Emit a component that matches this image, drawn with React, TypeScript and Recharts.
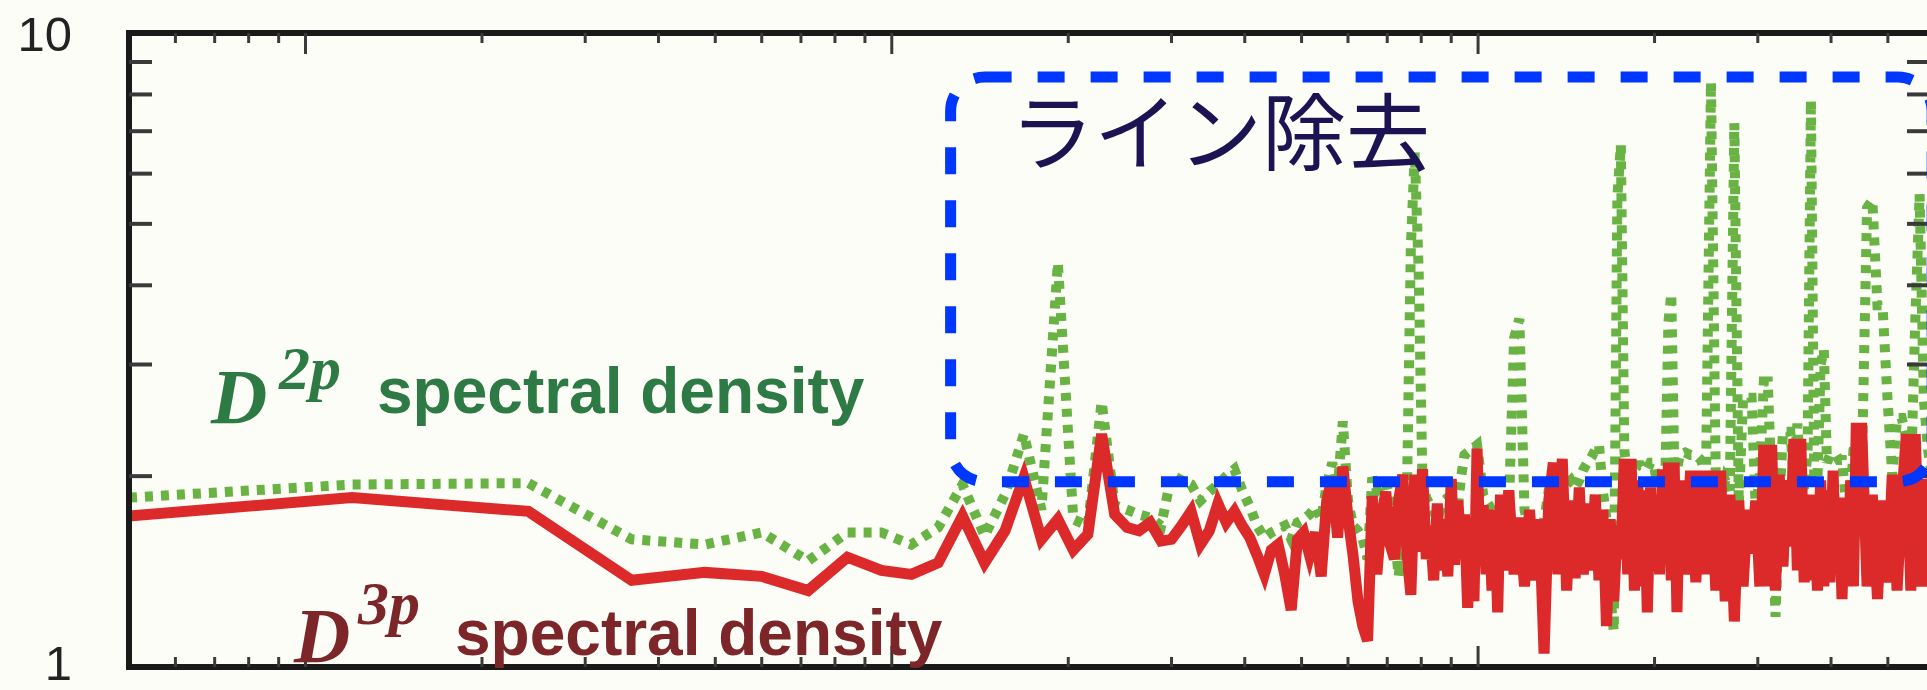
import { LineChart, Line, XAxis, YAxis, ReferenceArea } from 'recharts';

// frequency grid (Hz)
const freqHz = [
  5, 12, 24, 36, 48, 60, 72, 84, 96, 108,
  120, 132, 144, 156, 168, 180, 192, 204, 216, 228,
  240, 252, 264, 276, 288, 300, 312, 324, 336, 348,
  360, 372, 384, 396, 408, 420, 432, 444, 456, 468,
  480, 492, 504, 516, 528, 540, 552, 564, 576, 588,
  600, 612, 624, 636, 648, 660, 672, 684, 696, 708,
  720, 732, 744, 756, 768, 780, 792, 804, 816, 828,
  840, 852, 864, 876, 888, 900, 912, 924, 936, 948,
  960, 972, 984, 996, 1008, 1020, 1032, 1044, 1056, 1068,
  1080, 1092, 1104, 1128, 1152, 1176, 1200, 1224, 1248, 1272,
  1296, 1320, 1344, 1368, 1392, 1416, 1440, 1464, 1488, 1512,
  1536, 1560, 1584, 1608, 1632, 1656, 1680, 1704, 1728, 1752,
  1776, 1800, 1824, 1848, 1872, 1896, 1920, 1944, 1968, 1992,
  2016, 2040, 2064, 2088, 2112, 2136, 2160, 2184, 2208, 2256,
  2304, 2352, 2400, 2448, 2496, 2544, 2592, 2640, 2688, 2736,
  2784, 2832, 2880, 2928, 2976, 3024, 3072, 3120, 3168, 3216,
  3264, 3312, 3360, 3408, 3456, 3504, 3552, 3600, 3648, 3696,
  3744, 3792, 3840, 3888, 3936, 3984, 4032, 4080, 4128, 4176,
  4224, 4272, 4320, 4368, 4416, 4512, 4608, 4704, 4800, 4896,
  4992, 5088, 5184, 5280, 5376, 5472, 5568, 5664, 5760, 5856,
  5952,
];

// D2p spectral density (green, dotted)
const d2pDensity = [
  1.85, 1.94, 1.95, 1.59, 1.56, 1.63, 1.47, 1.63, 1.63, 1.56,
  1.66, 1.94, 1.61, 1.87, 2.33, 1.77, 4.34, 1.71, 1.67, 2.62,
  1.8, 1.77, 1.74, 1.72, 1.67, 2.01, 1.97, 1.94, 1.83, 1.89,
  1.94, 2.0, 2.05, 1.9, 1.79, 1.67, 1.6, 1.63, 1.65, 1.67,
  1.59, 1.69, 1.71, 1.74, 1.79, 1.71, 1.94, 2.1, 1.9, 2.44,
  1.83, 1.67, 1.64, 1.59, 1.48, 1.99, 1.9, 1.94, 1.96, 1.83,
  1.64, 1.39, 1.59, 1.83, 4.6, 6.49, 4.2, 1.93, 1.85, 1.8,
  1.76, 1.71, 1.78, 1.83, 1.85, 1.83, 1.8, 1.8, 2.0, 2.16,
  2.18, 2.2, 2.22, 2.24, 2.05, 1.87, 1.83, 1.8, 1.76, 1.71,
  1.67, 1.64, 1.68, 1.75, 3.3, 3.54, 1.77, 1.64, 1.59, 1.55,
  1.7, 1.9, 1.97, 1.92, 2.01, 1.94, 1.97, 1.92, 1.97, 2.05,
  2.1, 2.14, 2.2, 2.24, 1.9, 1.71, 1.3, 1.14, 5.5, 6.66,
  2.2, 1.97, 2.05, 2.05, 2.08, 2.08, 2.05, 2.05, 2.1, 2.1,
  1.97, 1.97, 2.05, 2.05, 3.5, 3.88, 2.1, 2.05, 2.16, 2.18,
  2.16, 2.16, 2.12, 2.0, 8.37, 1.97, 1.83, 1.97, 1.9, 7.21,
  1.8, 2.66, 2.66, 2.66, 1.77, 2.0, 2.82, 2.82, 1.9, 1.2,
  1.8, 2.35, 2.35, 2.35, 2.0, 2.42, 2.0, 1.9, 2.2, 7.84,
  2.0, 1.97, 3.0, 3.17, 2.1, 2.16, 2.16, 2.16, 2.12, 2.12,
  1.9, 1.77, 1.85, 2.2, 2.28, 2.0, 5.3, 5.45, 3.72, 3.72,
  2.66, 2.0, 2.47, 2.47, 2.3, 1.97, 3.5, 5.57, 2.64, 2.2,
  1.97,
];

// D3p spectral density (red, solid)
const d3pDensity = [
  1.73, 1.85, 1.76, 1.37, 1.41, 1.39, 1.32, 1.49, 1.42, 1.4,
  1.46, 1.73, 1.46, 1.64, 1.99, 1.59, 1.71, 1.53, 1.62, 2.33,
  1.74, 1.66, 1.64, 1.69, 1.58, 1.59, 1.67, 1.76, 1.56, 1.64,
  1.81, 1.69, 1.76, 1.67, 1.6, 1.5, 1.4, 1.53, 1.56, 1.4,
  1.23, 1.59, 1.63, 1.5, 1.63, 1.39, 1.83, 1.99, 1.6, 2.07,
  1.72, 1.5, 1.27, 1.16, 1.1, 1.86, 1.4, 1.71, 1.89, 1.56,
  1.48, 1.83, 2.01, 1.52, 1.3, 2.01, 1.52, 2.05, 1.48, 1.67,
  1.37, 1.81, 1.42, 1.71, 1.39, 1.98, 1.45, 1.83, 1.5, 1.74,
  1.24, 1.59, 1.27, 2.21, 1.48, 1.8, 1.4, 1.77, 1.32, 1.71,
  1.22, 1.87, 1.42, 1.9, 1.4, 1.72, 1.34, 1.77, 1.37, 1.71,
  1.05, 1.83, 2.1, 1.4, 2.13, 1.32, 1.83, 1.38, 1.92, 1.4,
  1.81, 1.42, 1.87, 1.37, 1.77, 1.16, 1.71, 1.27, 1.67, 1.48,
  2.13, 1.4, 2.13, 1.32, 1.97, 1.34, 1.9, 1.22, 1.92, 1.42,
  1.87, 1.4, 2.05, 1.48, 2.1, 1.37, 2.1, 1.22, 1.97, 1.4,
  2.04, 1.36, 2.04, 1.4, 2.04, 1.32, 2.04, 1.27, 1.87, 1.18,
  1.83, 1.34, 1.77, 1.51, 1.83, 1.34, 2.24, 1.34, 2.24, 1.32,
  2.01, 1.44, 1.97, 1.55, 2.29, 1.42, 2.29, 1.36, 1.87, 1.37,
  1.87, 1.32, 1.97, 1.34, 1.9, 1.36, 2.04, 1.4, 1.85, 1.28,
  1.8, 1.37, 1.97, 1.34, 2.38, 2.38, 1.34, 1.87, 1.28, 1.83,
  1.36, 2.01, 1.32, 1.83, 2.33, 1.32, 2.33, 1.34, 1.98, 1.34,
  1.83,
];

const xTicks = [6, 7, 8, 9, 10, 20, 30, 40, 50, 60, 70, 80, 90, 100, 200, 300, 400, 500, 600, 700, 800, 900, 1000, 2000, 3000, 4000, 5000];
const xMajorTicks = [10, 100, 1000];
const yTicks = [1, 2, 3, 4, 5, 6, 7, 8, 9, 10];
const yLabelTicks = [1, 10];

// highlighted "line removal" region
const boxFreq = [126, 5950];
const boxLevel = [1.96, 8.52];

const data = freqHz.map((f, i) => ({ f, d2p: d2pDensity[i], d3p: d3pDensity[i] }));

const FRAME = '#1a1a1a';
const TICK = '#3a3a3a';

function BottomTick({ x, y, payload }: any) {
  const len = xMajorTicks.includes(payload.value) ? 21 : 10;
  return <line x1={x} x2={x} y1={y} y2={y - len} stroke={TICK} strokeWidth={3} />;
}

function TopTick({ x, y, payload }: any) {
  const len = xMajorTicks.includes(payload.value) ? 21 : 10;
  return <line x1={x} x2={x} y1={y} y2={y + len} stroke={TICK} strokeWidth={3} />;
}

function LeftTick({ x, y, payload }: any) {
  if (yLabelTicks.includes(payload.value)) {
    // bottom label sits a little above its tick, as in the source figure
    const dy = payload.value === 1 ? -4 : 1;
    return (
      <text
        x={x - 57}
        y={y + dy}
        textAnchor="end"
        dominantBaseline="central"
        fontSize={49}
        fontFamily="'Liberation Sans', Arial, sans-serif"
        fill="#222"
      >
        {payload.value}
      </text>
    );
  }
  return <line x1={x} x2={x + 23} y1={y} y2={y} stroke={TICK} strokeWidth={4} />;
}

function RightTick({ x, y, payload }: any) {
  if (yLabelTicks.includes(payload.value)) return <g />;
  return <line x1={x} x2={x - 23} y1={y} y2={y} stroke={TICK} strokeWidth={4} />;
}

function RoundBox({ x, y, width, height }: any) {
  return (
    <rect
      x={x}
      y={y}
      width={width}
      height={height}
      rx={34}
      ry={34}
      fill="none"
      stroke="#0037ff"
      strokeWidth={11}
      strokeDasharray="27 26"
    />
  );
}

const axisLine = { stroke: FRAME, strokeWidth: 6, strokeLinecap: 'square' as const };

export default function App() {
  return (
    <div
      style={{
        position: 'absolute',
        left: 0,
        top: 0,
        width: 1927,
        height: 690,
        overflow: 'hidden',
        background: '#fdfdf8',
      }}
    >
      <LineChart width={1940} height={690} data={data} margin={{ top: 32, right: 9, bottom: 22, left: 128 }}>
        <XAxis
          xAxisId="b"
          dataKey="f"
          type="number"
          scale="log"
          domain={[5, 5900]}
          allowDataOverflow
          ticks={xTicks}
          interval={0}
          tick={BottomTick}
          tickLine={false}
          tickSize={0}
          tickMargin={0}
          height={1}
          axisLine={axisLine}
        />
        <XAxis
          xAxisId="t"
          orientation="top"
          dataKey="f"
          type="number"
          scale="log"
          domain={[5, 5900]}
          allowDataOverflow
          ticks={xTicks}
          interval={0}
          tick={TopTick}
          tickLine={false}
          tickSize={0}
          tickMargin={0}
          height={1}
          axisLine={axisLine}
        />
        <YAxis
          yAxisId="l"
          type="number"
          scale="log"
          domain={[1, 10]}
          allowDataOverflow
          ticks={yTicks}
          interval={0}
          tick={LeftTick}
          tickLine={false}
          tickSize={0}
          tickMargin={0}
          width={1}
          axisLine={axisLine}
        />
        <YAxis
          yAxisId="r"
          orientation="right"
          type="number"
          scale="log"
          domain={[1, 10]}
          allowDataOverflow
          ticks={yTicks}
          interval={0}
          tick={RightTick}
          tickLine={false}
          tickSize={0}
          tickMargin={0}
          width={1}
          axisLine={axisLine}
        />
        <Line
          xAxisId="b"
          yAxisId="l"
          type="linear"
          dataKey="d2p"
          stroke="#69b244"
          strokeWidth={10}
          strokeDasharray="8 8"
          dot={false}
          activeDot={false}
          isAnimationActive={false}
        />
        <Line
          xAxisId="b"
          yAxisId="l"
          type="linear"
          dataKey="d3p"
          stroke="#dc2a2a"
          strokeWidth={11}
          dot={false}
          activeDot={false}
          isAnimationActive={false}
        />
        <ReferenceArea
          xAxisId="b"
          yAxisId="l"
          x1={boxFreq[0]}
          x2={boxFreq[1]}
          y1={boxLevel[0]}
          y2={boxLevel[1]}
          ifOverflow="visible"
          zIndex={2000}
          shape={RoundBox}
        />
      </LineChart>

      <svg
        width={1927}
        height={690}
        style={{ position: 'absolute', left: 0, top: 0, pointerEvents: 'none' }}
      >
        <g fill="#2d7a45">
          <text x={211} y={423} fontFamily="'Liberation Serif', 'Times New Roman', serif" fontStyle="italic" fontWeight="bold" fontSize={78}>D</text>
          <text x={279} y={389} fontFamily="'Liberation Serif', 'Times New Roman', serif" fontStyle="italic" fontWeight="bold" fontSize={62}>2p</text>
          <text x={377} y={413} fontFamily="'Liberation Sans', Arial, sans-serif" fontWeight="bold" fontSize={64}>spectral density</text>
        </g>
        <g fill="#7c2629">
          <text x={294} y={662} fontFamily="'Liberation Serif', 'Times New Roman', serif" fontStyle="italic" fontWeight="bold" fontSize={78}>D</text>
          <text x={358} y={624} fontFamily="'Liberation Serif', 'Times New Roman', serif" fontStyle="italic" fontWeight="bold" fontSize={62}>3p</text>
          <text x={455} y={655} fontFamily="'Liberation Sans', Arial, sans-serif" fontWeight="bold" fontSize={64}>spectral density</text>
        </g>
        <text x={1010} y={164} fontFamily="'Noto Sans CJK JP', sans-serif" fontSize={84} fill="#1c1352">
          ライン除去
        </text>
      </svg>
    </div>
  );
}
